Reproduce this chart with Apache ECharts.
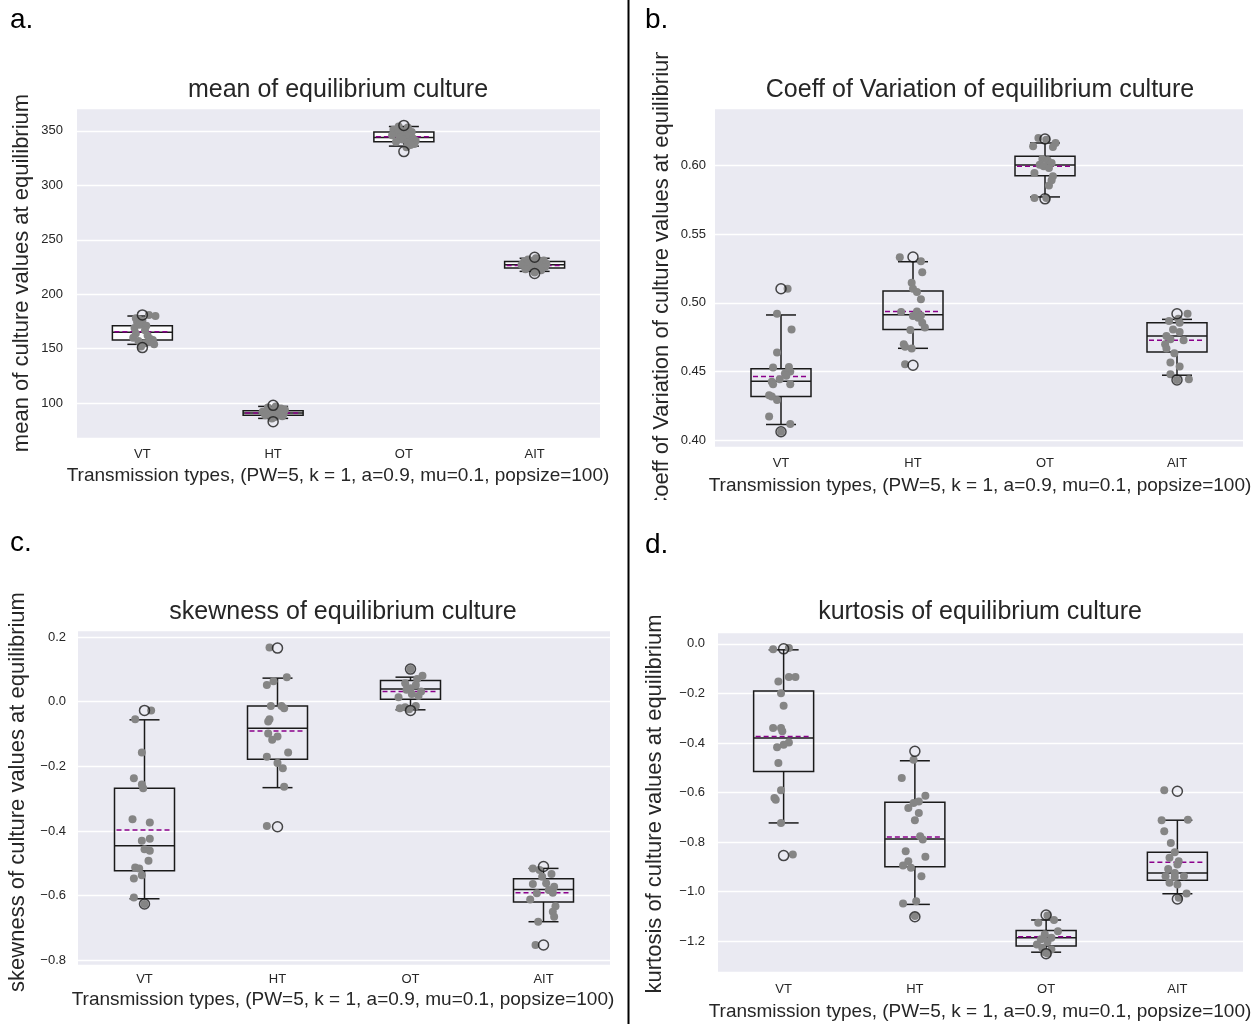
<!DOCTYPE html>
<html><head><meta charset="utf-8">
<script src="https://cdn.jsdelivr.net/npm/echarts@6/dist/echarts.min.js"></script>
<style>body{margin:0;background:#fff;} .p{position:absolute;overflow:hidden}</style>
</head><body>
<div id="bg" class="p" style="left:0;top:0;width:1257px;height:1024px"></div>
<div id="pa" class="p" style="left:0;top:0;width:626px;height:512px"></div>
<div id="pb" class="p" style="left:632px;top:52px;width:625px;height:448px"></div>
<div id="pc" class="p" style="left:0;top:512px;width:626px;height:512px"></div>
<div id="pd" class="p" style="left:632px;top:512px;width:625px;height:512px"></div>
<script>
const categories = ['VT', 'HT', 'OT', 'AIT'];
const xAxisTitle = 'Transmission types, (PW=5, k = 1, a=0.9, mu=0.1, popsize=100)';

// ---- panel a: mean ----
const meanBox = [[154,158,165,171,180],[86,89,91,93,97],[336,340,344,349,354],[221,224,227,230,233]];
const meanAvg = [165.5, 91, 344.5, 226.5];
const meanOut = [[0,181],[0,151],[1,98],[1,83],[2,355],[2,331],[3,234],[3,219]];
const meanPts = [
 [0,0.05,181],[0,0.1,180],[0,-0.05,178],[0,-0.03,177],[0,0,176],[0,-0.04,174],[0,-0.02,172],[0,0.03,171],[0,-0.06,169],[0,0.02,167],
 [0,-0.05,164],[0,0.04,162],[0,-0.07,160],[0,0.06,159],[0,0.08,158],[0,-0.03,157],[0,0.05,156],[0,0.02,155],[0,0.09,154],[0,-0.01,152],
 [1,0.02,97],[1,-0.04,96],[1,0.06,95],[1,0.09,94],[1,-0.03,93],[1,0.03,93],[1,-0.08,92],[1,0.05,92],[1,0,91],[1,-0.05,91],
 [1,0.08,90],[1,-0.02,90],[1,0.04,89],[1,-0.06,89],[1,0.07,88],[1,0.01,87],[1,-0.01,86],
 [2,-0.04,354],[2,0.03,353],[2,-0.08,351],[2,-0.02,350],[2,0.06,349],[2,-0.05,348],[2,0.01,347],[2,-0.09,346],[2,0.04,345],
 [2,-0.03,344],[2,0.07,343],[2,-0.01,342],[2,0.09,341],[2,-0.06,340],[2,0.03,339],[2,0.08,338],[2,0.05,337],[2,0.02,335],
 [3,0.01,233],[3,-0.05,232],[3,0.07,231],[3,-0.08,230],[3,0.04,230],[3,-0.02,229],[3,0.09,228],[3,-0.06,228],[3,0.02,227],
 [3,-0.1,227],[3,0.06,226],[3,-0.03,225],[3,0.08,225],[3,0,224],[3,-0.07,223],[3,0.05,222],[3,0,220]
];

// ---- panel b: coefficient of variation ----
const cvBox = [[0.4114,0.4318,0.4429,0.4521,0.4912],[0.4669,0.4807,0.4914,0.5086,0.5300],[0.5772,0.5927,0.6005,0.6068,0.6165],[0.4473,0.4643,0.4759,0.4856,0.4880]];
const cvAvg = [0.4463, 0.4938, 0.5995, 0.4727];
const cvOut = [[0,0.5103],[0,0.4061],[1,0.5334],[1,0.4546],[2,0.6194],[2,0.5758],[3,0.4921],[3,0.4439]];
const cvPts = [
 [0,-0.03,0.4921],[0,0.08,0.4807],[0,-0.03,0.4638],[0,-0.06,0.4529],[0,0.06,0.4533],[0,0.07,0.4500],[0,0.03,0.4485],[0,0.04,0.4470],
 [0,-0.01,0.4444],[0,-0.07,0.4425],[0,-0.06,0.4407],[0,0.07,0.4407],[0,-0.09,0.4327],[0,-0.07,0.4318],[0,-0.03,0.4293],[0,-0.09,0.4172],
 [0,0.07,0.4117],[0,0,0.4061],[0,0.05,0.5103],
 [1,-0.10,0.5333],[1,0.06,0.5304],[1,0.07,0.5224],[1,-0.01,0.5147],[1,0,0.5103],[1,0.03,0.5079],[1,0.06,0.5026],[1,-0.09,0.4933],
 [1,0.03,0.4938],[1,0.06,0.4909],[1,0,0.4904],[1,0.04,0.4892],[1,0.07,0.4856],[1,0.09,0.4820],[1,-0.02,0.4803],[1,-0.07,0.4698],
 [1,-0.06,0.4681],[1,-0.01,0.4667],[1,-0.06,0.4553],
 [2,-0.05,0.6201],[2,0.01,0.6189],[2,0.08,0.6165],[2,-0.09,0.6141],[2,0.06,0.6136],[2,-0.02,0.6048],[2,0.02,0.6039],[2,0.05,0.6019],
 [2,-0.04,0.6007],[2,-0.01,0.5995],[2,0.03,0.5983],[2,-0.08,0.5947],[2,0.06,0.5922],[2,0.05,0.5893],[2,0.03,0.5855],[2,-0.08,0.5765],[2,0.01,0.5765],
 [3,0.08,0.4921],[3,0.01,0.4885],[3,-0.06,0.4868],[3,0.02,0.4856],[3,-0.03,0.4807],[3,0.02,0.4788],[3,-0.08,0.4759],[3,-0.05,0.4735],
 [3,0.05,0.4727],[3,-0.09,0.4698],[3,-0.08,0.4667],[3,-0.02,0.4633],[3,-0.05,0.4565],[3,0.02,0.4536],[3,-0.05,0.4480],[3,0.09,0.4444],[3,0,0.4439]
];

// ---- panel c: skewness ----
const skBox = [[-0.610,-0.523,-0.446,-0.268,-0.056],[-0.266,-0.178,-0.082,-0.013,0.073],[-0.025,0.008,0.039,0.066,0.076],[-0.681,-0.620,-0.581,-0.548,-0.516]];
const skAvg = [-0.397, -0.091, 0.032, -0.591];
const skOut = [[0,-0.027],[0,-0.626],[1,0.166],[1,-0.387],[2,0.101],[2,-0.027],[3,-0.510],[3,-0.753]];
const skPts = [
 [0,0.05,-0.027],[0,-0.07,-0.054],[0,-0.02,-0.157],[0,-0.08,-0.237],[0,-0.02,-0.256],[0,-0.01,-0.268],[0,-0.09,-0.364],[0,0.04,-0.374],
 [0,0.04,-0.424],[0,-0.02,-0.430],[0,0,-0.457],[0,0.04,-0.461],[0,0.03,-0.492],[0,-0.07,-0.513],[0,-0.04,-0.516],[0,-0.02,-0.537],
 [0,-0.08,-0.547],[0,-0.08,-0.606],[0,0,-0.626],
 [1,-0.06,0.168],[1,0.07,0.076],[1,-0.03,0.063],[1,-0.08,0.052],[1,-0.05,-0.013],[1,0.03,-0.013],[1,0.05,-0.020],[1,-0.06,-0.054],
 [1,-0.07,-0.061],[1,-0.07,-0.098],[1,0,-0.108],[1,-0.04,-0.118],[1,0.08,-0.157],[1,-0.08,-0.170],[1,0,-0.190],[1,0.04,-0.206],
 [1,0.05,-0.263],[1,-0.08,-0.385],
 [2,0,0.101],[2,0.09,0.080],[2,0.05,0.070],[2,-0.04,0.057],[2,0.04,0.052],[2,0,0.042],[2,-0.03,0.037],[2,0.08,0.032],
 [2,0.01,0.024],[2,0.06,0.018],[2,-0.09,0.014],[2,0.04,-0.013],[2,-0.08,-0.020],[2,-0.01,-0.023],[2,-0.04,-0.017],
 [3,-0.08,-0.516],[3,-0.03,-0.521],[3,0.06,-0.533],[3,-0.01,-0.542],[3,-0.08,-0.564],[3,0.02,-0.562],[3,0.08,-0.573],[3,0.04,-0.583],
 [3,-0.05,-0.593],[3,0.07,-0.591],[3,-0.10,-0.612],[3,0.09,-0.633],[3,0.07,-0.650],[3,0.08,-0.666],[3,-0.04,-0.681],[3,-0.06,-0.753]
];

// ---- panel d: kurtosis ----
const kuBox = [[-0.723,-0.515,-0.380,-0.190,-0.024],[-1.052,-0.900,-0.788,-0.640,-0.472],[-1.245,-1.220,-1.187,-1.157,-1.115],[-1.009,-0.954,-0.925,-0.841,-0.712]];
const kuAvg = [-0.374, -0.780, -1.183, -0.882];
const kuOut = [[0,-0.020],[0,-0.855],[1,-0.434],[1,-1.102],[2,-1.095],[2,-1.251],[3,-0.595],[3,-1.030]];
const kuPts = [
 [0,-0.08,-0.022],[0,0.04,-0.017],[0,0.04,-0.134],[0,0.09,-0.134],[0,-0.04,-0.152],[0,-0.02,-0.199],[0,0,-0.250],[0,-0.08,-0.340],
 [0,-0.02,-0.340],[0,-0.01,-0.353],[0,0.04,-0.398],[0,0,-0.407],[0,-0.05,-0.417],[0,-0.04,-0.481],[0,-0.02,-0.591],[0,-0.07,-0.622],
 [0,-0.06,-0.629],[0,-0.02,-0.723],[0,0.07,-0.851],
 [1,-0.01,-0.468],[1,-0.10,-0.542],[1,0.08,-0.613],[1,0.03,-0.636],[1,-0.01,-0.643],[1,-0.05,-0.663],[1,0.03,-0.683],[1,0,-0.712],
 [1,0.04,-0.777],[1,0.06,-0.790],[1,-0.07,-0.837],[1,0.08,-0.860],[1,-0.05,-0.878],[1,-0.09,-0.895],[1,-0.03,-0.904],[1,0.05,-0.938],
 [1,-0.09,-1.048],[1,0.01,-1.039],[1,0,-1.099],
 [2,0.01,-1.097],[2,0.06,-1.115],[2,-0.06,-1.126],[2,0.09,-1.160],[2,-0.01,-1.173],[2,0.04,-1.187],[2,-0.04,-1.193],[2,0.01,-1.204],
 [2,-0.07,-1.214],[2,-0.03,-1.227],[2,0.04,-1.234],[2,-0.01,-1.245],[2,0.01,-1.250],
 [3,-0.10,-0.591],[3,-0.12,-0.712],[3,0.08,-0.710],[3,-0.10,-0.757],[3,-0.05,-0.804],[3,-0.02,-0.841],[3,-0.06,-0.864],[3,0.01,-0.878],
 [3,0,-0.891],[3,-0.07,-0.909],[3,-0.02,-0.925],[3,-0.09,-0.938],[3,-0.02,-0.941],[3,0.05,-0.938],[3,-0.06,-0.965],[3,0,-0.972],
 [3,0.07,-1.008],[3,0.01,-1.025]
];

const FONT = "'Liberation Sans', Arial, sans-serif";
const TXT = '#262626';
const BOX_W = 60, CAP_W = 30;

function txt(x, y, s, size, opts) {
  opts = opts || {};
  return {
    type: 'text', x: x, y: y, rotation: opts.rot || 0, z: 10,
    style: { text: s, font: size + 'px ' + FONT, fill: opts.color || TXT,
      textAlign: opts.align || 'center', align: opts.align || 'center',
      textVerticalAlign: 'middle', verticalAlign: 'middle' }
  };
}

function panel(id, cfg) {
  const chart = echarts.init(document.getElementById(id), null, { renderer: 'canvas' });
  const boxData = cfg.box.map((b, i) => [i, b[0], b[1], b[2], b[3], b[4], cfg.avg[i]]);
  const ptData = cfg.pts.map(p => [p[0] + p[1], p[2]]);
  const outData = cfg.out.map(o => [o[0], o[1]]);
  const g = cfg.grid;
  chart.setOption({
    animation: false,
    grid: { left: g[0], top: g[1], width: g[2], height: g[3], show: true, backgroundColor: '#EAEAF2', borderWidth: 0 },
    xAxis: [
      { type: 'category', data: categories, axisLine: { show: false }, axisTick: { show: false }, splitLine: { show: false },
        axisLabel: { color: TXT, fontSize: 13, fontFamily: FONT, margin: cfg.xm } },
      { type: 'value', min: -0.5, max: 3.5, show: false }
    ],
    yAxis: { type: 'value', min: cfg.min, max: cfg.max, minInterval: cfg.step, maxInterval: cfg.step,
      axisLine: { show: false }, axisTick: { show: false },
      splitLine: { lineStyle: { color: '#ffffff', width: 1.3 } },
      axisLabel: { color: TXT, fontSize: 13, fontFamily: FONT, margin: cfg.ym, showMinLabel: false, showMaxLabel: false,
        formatter: v => { const s = v.toFixed(cfg.dec); return s.replace('-', '\u2212'); } } },
    graphic: [
      txt(cfg.title[0], cfg.title[1], cfg.title[2], 25),
      txt(cfg.xname[0], cfg.xname[1], xAxisTitle, 19),
      txt(cfg.yname[0], cfg.yname[1], cfg.yname[2], cfg.yname[3], { rot: Math.PI / 2 })
    ],
    series: [
      { type: 'custom', xAxisIndex: 0, z: 2, data: boxData,
        encode: { x: 0, y: [1, 2, 3, 4, 5, 6] },
        renderItem: function (params, api) {
          const c = api.value(0);
          const P = v => api.coord([c, v]);
          const x = P(api.value(3))[0];
          const yMin = P(api.value(1))[1], yQ1 = P(api.value(2))[1], yMed = P(api.value(3))[1];
          const yQ3 = P(api.value(4))[1], yMax = P(api.value(5))[1], yMean = P(api.value(6))[1];
          const hw = BOX_W / 2, cw = CAP_W / 2;
          const ln = { stroke: '#1a1a1a', lineWidth: 1.5 };
          return { type: 'group', children: [
            { type: 'rect', shape: { x: x - hw, y: yQ3, width: BOX_W, height: yQ1 - yQ3 }, style: { fill: cfg.boxFill, stroke: '#1a1a1a', lineWidth: 1.5 } },
            { type: 'line', shape: { x1: x, y1: yQ3, x2: x, y2: yMax }, style: ln },
            { type: 'line', shape: { x1: x, y1: yQ1, x2: x, y2: yMin }, style: ln },
            { type: 'line', shape: { x1: x - cw, y1: yMax, x2: x + cw, y2: yMax }, style: ln },
            { type: 'line', shape: { x1: x - cw, y1: yMin, x2: x + cw, y2: yMin }, style: ln },
            { type: 'line', shape: { x1: x - hw, y1: yMed, x2: x + hw, y2: yMed }, style: ln },
            { type: 'line', shape: { x1: x - hw + 2, y1: yMean, x2: x + hw - 2, y2: yMean }, style: { stroke: '#8B008B', lineWidth: 1.5, lineDash: [5, 3] } }
          ] };
        } },
      { type: 'scatter', xAxisIndex: 1, z: 3, data: ptData, symbolSize: 8, itemStyle: { color: '#858585', opacity: 1 } },
      { type: 'scatter', xAxisIndex: 1, z: 4, data: outData, symbolSize: 10,
        itemStyle: { color: 'rgba(0,0,0,0)', borderColor: '#1a1a1a', borderWidth: 1.5 } }
    ]
  });
}

// background: panel letters and divider
const bg = echarts.init(document.getElementById('bg'));
bg.setOption({ animation: false, graphic: [
  { type: 'line', shape: { x1: 628.5, y1: 0, x2: 628.5, y2: 1024 }, style: { stroke: '#000', lineWidth: 2 } },
  txt(10, 20, 'a.', 28, { align: 'left', color: '#000' }),
  txt(645, 20, 'b.', 28, { align: 'left', color: '#000' }),
  txt(10, 543, 'c.', 28, { align: 'left', color: '#000' }),
  txt(645, 545, 'd.', 28, { align: 'left', color: '#000' })
] });

panel('pa', { box: meanBox, avg: meanAvg, out: meanOut, pts: meanPts, grid: [77, 108, 523, 330],
  min: 68, max: 371, step: 50, dec: 0, xm: 10, ym: 14, boxFill: 'rgba(255,255,255,0.85)',
  title: [338, 90, 'mean of equilibrium culture'], xname: [338, 476],
  yname: [22, 273, 'mean of culture values at equilibrium', 22] });

panel('pb', { box: cvBox, avg: cvAvg, out: cvOut, pts: cvPts, grid: [83, 56, 528, 339],
  min: 0.395, max: 0.642, step: 0.05, dec: 2, xm: 10, ym: 9, boxFill: 'rgba(0,0,0,0)',
  title: [348, 38, 'Coeff of Variation of equilibrium culture'], xname: [348, 434],
  yname: [30, 225, 'Coeff of Variation of culture values at equilibrium', 22] });

panel('pc', { box: skBox, avg: skAvg, out: skOut, pts: skPts, grid: [78, 118, 532, 335],
  min: -0.815, max: 0.222, step: 0.2, dec: 1, xm: 8, ym: 12, boxFill: 'rgba(0,0,0,0)',
  title: [343, 100, 'skewness of equilibrium culture'], xname: [343, 488],
  yname: [18, 280, 'skewness of culture values at equilibrium', 22] });

panel('pd', { box: kuBox, avg: kuAvg, out: kuOut, pts: kuPts, grid: [86, 120, 525, 340],
  min: -1.325, max: 0.048, step: 0.2, dec: 1, xm: 11, ym: 13, boxFill: 'rgba(0,0,0,0)',
  title: [348, 100, 'kurtosis of equilibrium culture'], xname: [348, 500],
  yname: [23, 292, 'kurtosis of culture values at equilibrium', 22] });
</script>
</body></html>
